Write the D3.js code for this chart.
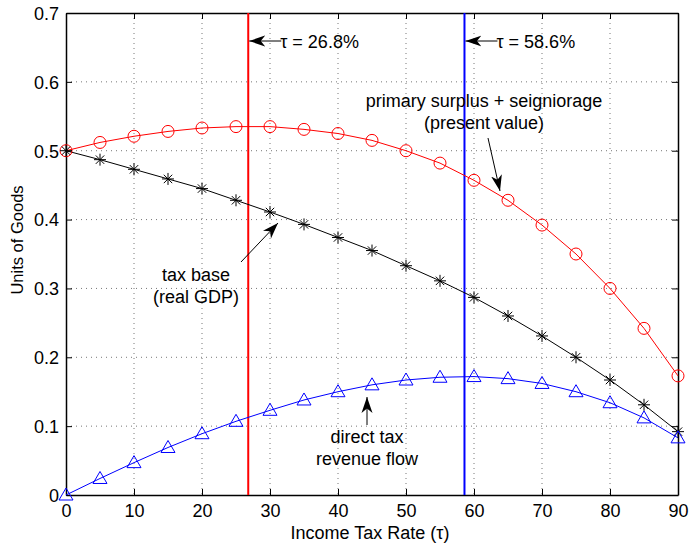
<!DOCTYPE html>
<html>
<head>
<meta charset="utf-8">
<script src="https://cdn.jsdelivr.net/npm/d3@7"></script>
<style>
  body { margin: 0; background: #fff; }
  text { font-family: "Liberation Sans", Arial, sans-serif; fill: #000; }
</style>
</head>
<body>
<svg id="chart" width="690" height="545"></svg>
<script>
// data
var taxRates = [0, 5, 10, 15, 20, 25, 30, 35, 40, 45, 50, 55, 60, 65, 70, 75, 80, 85, 90];
var surplusPV = [0.500, 0.512, 0.521, 0.528, 0.533, 0.535, 0.535, 0.531, 0.525, 0.515, 0.500, 0.482, 0.457, 0.428, 0.392, 0.350, 0.300, 0.242, 0.173];
var taxBase = [0.500, 0.487, 0.473, 0.459, 0.445, 0.428, 0.411, 0.393, 0.374, 0.355, 0.333, 0.311, 0.287, 0.260, 0.231, 0.200, 0.167, 0.131, 0.092];
var taxRevenue = [0.000, 0.024, 0.047, 0.069, 0.089, 0.107, 0.123, 0.138, 0.150, 0.160, 0.167, 0.171, 0.172, 0.169, 0.162, 0.150, 0.134, 0.112, 0.083];
var xTicks = [0, 10, 20, 30, 40, 50, 60, 70, 80, 90];
var yTicks = [0, 0.1, 0.2, 0.3, 0.4, 0.5, 0.6, 0.7];
var vLines = [{tau: 26.8, color: "#ff0000", label: "\u03c4 = 26.8%"},
              {tau: 58.6, color: "#0000ff", label: "\u03c4 = 58.6%"}];

var svg = d3.select("#chart");
var L = 66, R = 678, T = 13, B = 495;
var FS = 18;

var x = d3.scaleLinear().domain([0, 90]).range([L, R]);
var y = d3.scaleLinear().domain([0, 0.7]).range([B, T]);

// arrowhead marker
svg.append("defs").append("marker")
    .attr("id", "arrowhead")
    .attr("viewBox", "0 -6 16 12")
    .attr("refX", 16)
    .attr("refY", 0)
    .attr("orient", "auto")
    .attr("markerUnits", "userSpaceOnUse")
    .attr("markerWidth", 16)
    .attr("markerHeight", 12)
  .append("path")
    .attr("d", "M0,-5.5 L16,0 L0,5.5 L4.5,0 Z")
    .attr("fill", "#000");

// grid
var grid = svg.append("g").attr("stroke", "#777").attr("stroke-width", 1)
    .attr("stroke-dasharray", "1,4");
xTicks.forEach(function (t) {
    if (t === 0 || t === 90) return;
    grid.append("line").attr("x1", x(t)).attr("x2", x(t)).attr("y1", T).attr("y2", B);
});
yTicks.forEach(function (t) {
    if (t === 0 || t === 0.7) return;
    grid.append("line").attr("x1", L).attr("x2", R).attr("y1", y(t)).attr("y2", y(t));
});

// axes
var xAxis = svg.append("g").attr("transform", "translate(0," + B + ")")
    .call(d3.axisBottom(x).tickValues(xTicks).tickSizeInner(-6).tickSizeOuter(0).tickPadding(9));
var xTop = svg.append("g").attr("transform", "translate(0," + T + ")")
    .call(d3.axisTop(x).tickValues(xTicks).tickSizeInner(-6).tickSizeOuter(0).tickFormat(""));
var yAxis = svg.append("g").attr("transform", "translate(" + L + ",0)")
    .call(d3.axisLeft(y).tickValues(yTicks).tickSizeInner(-6).tickSizeOuter(0).tickPadding(7)
        .tickFormat(function (d) { return d === 0 ? "0" : d3.format(".1f")(d); }));
var yRight = svg.append("g").attr("transform", "translate(" + R + ",0)")
    .call(d3.axisRight(y).tickValues(yTicks).tickSizeInner(-6).tickSizeOuter(0).tickFormat(""));

[xAxis, xTop, yAxis, yRight].forEach(function (g) {
    g.select(".domain").attr("stroke", "#000").attr("stroke-width", 1.5);
    g.selectAll(".tick line").attr("stroke", "#000");
    g.selectAll("text").attr("font-size", FS).attr("font-family", "Liberation Sans, Arial, sans-serif").attr("fill", "#000");
});
yAxis.selectAll("text").attr("dy", "0.35em");

// vertical lines at the two tax rates
svg.selectAll(".vline").data(vLines).enter().append("line")
    .attr("x1", function (d) { return x(d.tau); })
    .attr("x2", function (d) { return x(d.tau); })
    .attr("y1", T).attr("y2", B)
    .attr("stroke", function (d) { return d.color; })
    .attr("stroke-width", 2);

var line = d3.line()
    .x(function (d) { return x(d[0]); })
    .y(function (d) { return y(d[1]); });

function series(vals, color) {
    var pts = taxRates.map(function (t, i) { return [t, vals[i]]; });
    svg.append("path").datum(pts)
        .attr("d", line)
        .attr("fill", "none")
        .attr("stroke", color)
        .attr("stroke-width", 1);
    return pts;
}

var redPts = series(surplusPV, "#ff0000");
var blackPts = series(taxBase, "#000000");
var bluePts = series(taxRevenue, "#0000ff");

// circles
svg.selectAll(".circ").data(redPts).enter().append("circle")
    .attr("cx", function (d) { return x(d[0]); })
    .attr("cy", function (d) { return y(d[1]); })
    .attr("r", 6)
    .attr("fill", "none")
    .attr("stroke", "#ff0000")
    .attr("stroke-width", 1);

// asterisks
var star = "M-6,0 L6,0 M0,-6 L0,6 M-4.2,-4.2 L4.2,4.2 M-4.2,4.2 L4.2,-4.2";
svg.selectAll(".star").data(blackPts).enter().append("path")
    .attr("transform", function (d) { return "translate(" + x(d[0]) + "," + y(d[1]) + ")"; })
    .attr("d", star)
    .attr("stroke", "#000")
    .attr("stroke-width", 1)
    .attr("fill", "none");

// triangles
var tri = "M0,-7 L7,5 L-7,5 Z";
svg.selectAll(".tri").data(bluePts).enter().append("path")
    .attr("transform", function (d) { return "translate(" + x(d[0]) + "," + y(d[1]) + ")"; })
    .attr("d", tri)
    .attr("stroke", "#0000ff")
    .attr("stroke-width", 1)
    .attr("fill", "none");

// annotations
function arrow(x1, y1, x2, y2) {
    svg.append("line")
        .attr("x1", x1).attr("y1", y1).attr("x2", x2).attr("y2", y2)
        .attr("stroke", "#000").attr("stroke-width", 1)
        .attr("marker-end", "url(#arrowhead)");
}
function label(lines, cx, cy, anchor) {
    var t = svg.append("text").attr("x", cx).attr("y", cy)
        .attr("font-size", FS).attr("text-anchor", anchor || "middle");
    lines.forEach(function (s, i) {
        t.append("tspan").attr("x", cx).attr("dy", i === 0 ? 0 : 22).text(s);
    });
}

vLines.forEach(function (d) {
    var xv = x(d.tau);
    arrow(xv + 33, 41, xv + 1, 41);
    label([d.label], xv + 32, 48, "start");
});

label(["primary surplus + seigniorage", "(present value)"], 484, 107);
arrow(488, 138, 500, 191);

label(["tax base", "(real GDP)"], 196, 281);
arrow(241, 262, 278, 223);

label(["direct tax", "revenue flow"], 367, 443);
arrow(367, 425, 367, 397);

// axis titles
svg.append("text").attr("x", 370).attr("y", 539)
    .attr("text-anchor", "middle").attr("font-size", FS)
    .text("Income Tax Rate (\u03c4)");
svg.append("text")
    .attr("transform", "translate(23,240) rotate(-90)")
    .attr("text-anchor", "middle").attr("font-size", 16.5)
    .text("Units of Goods");
</script>
</body>
</html>
